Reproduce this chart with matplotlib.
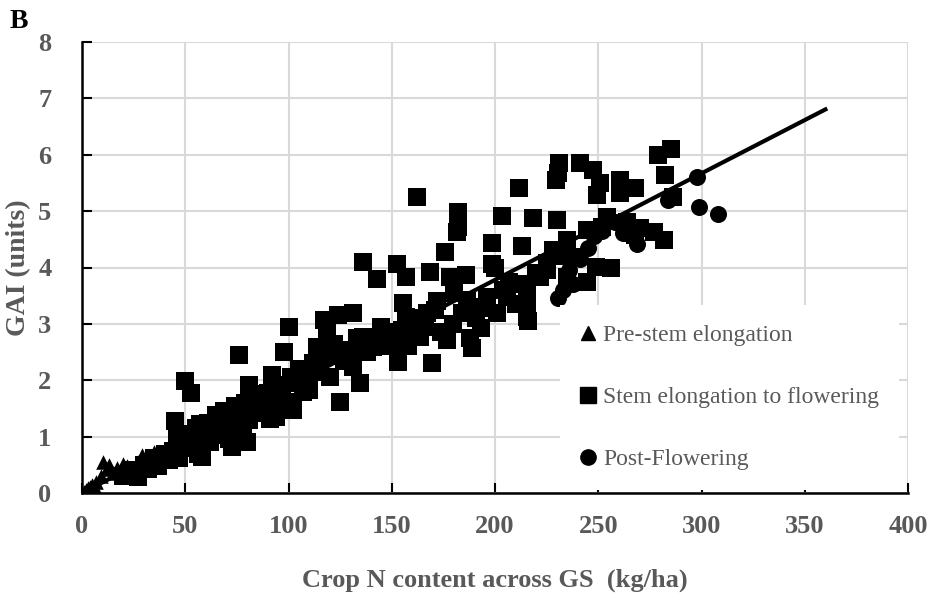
import matplotlib
matplotlib.use("Agg")
import matplotlib.pyplot as plt
from matplotlib.lines import Line2D

# Pre-stem elongation (triangles)
tri_x = [0, 1, 2, 3, 4, 5, 6, 7, 9, 10, 12, 13, 15, 17, 19, 20, 22, 24, 25, 27,
         29, 31, 33, 35, 38, 41, 44, 48]
tri_y = [0.0, 0.02, 0.05, 0.08, 0.10, 0.15, 0.12, 0.20, 0.30, 0.55, 0.42, 0.50, 0.35,
         0.45, 0.30, 0.52, 0.48, 0.28, 0.40, 0.55, 0.68, 0.50, 0.60, 0.72, 0.70, 0.65,
         0.75, 0.80]

# Stem elongation to flowering (squares)
sq_x = [20, 24, 27, 30, 32, 35, 37, 40, 42, 44, 45, 46, 47, 49, 50, 51, 53, 53, 55, 56,
        57, 58, 59, 61, 62, 64, 65, 67, 68, 69, 70, 71, 72, 72.6, 74, 75, 76, 77, 78, 79,
        80, 81, 81, 83, 85, 86, 88, 90, 91, 92, 93, 94, 95, 97, 98, 100, 100, 101, 102, 104,
        105, 107, 109, 110, 112, 113.6, 115, 117, 118.6, 120, 121, 124, 125, 127, 129.8, 131, 131, 134.6, 136, 136,
        138, 141, 143, 145, 147.5, 150, 152.5, 152.5, 153, 155.5, 157, 157, 158, 160, 162, 163.7, 165, 167, 168.5, 169.5,
        172, 174, 176, 176.8, 178, 179.7, 181.6, 182, 182, 184, 186, 186.4, 188, 189, 191, 193, 193, 196, 198.5, 198.5,
        200, 201, 203.4, 205.8, 207, 210, 211.6, 213, 215.5, 215.5, 215.5, 216, 218.4, 220, 222, 225, 225, 228, 229.5, 230,
        230.5, 231, 232, 235, 235, 238, 241, 244.5, 244.5, 247.5, 249, 249.4, 251, 252, 254, 256, 260.5, 260.5, 264, 268,
        268, 270, 277, 279, 282, 282.3, 285, 286,
        108, 114, 122, 128, 133, 140, 146, 149, 155, 161, 166, 171, 180, 195, 204, 212]
sq_y = [0.30, 0.40, 0.28, 0.50, 0.42, 0.62, 0.48, 0.70, 0.58, 0.75, 1.28, 0.95, 0.62, 0.85, 1.98, 1.05, 1.78, 0.80, 1.15, 0.70,
        1.22, 0.64, 0.98, 1.25, 0.90, 1.10, 1.38, 1.20, 1.02, 1.45, 1.30, 0.95, 1.40, 0.82, 1.55, 1.20, 2.45, 1.45, 1.05, 1.60,
        0.90, 1.92, 1.30, 1.65, 1.42, 1.75, 1.50, 1.78, 1.32, 2.10, 1.62, 1.35, 1.92, 1.80, 2.50, 2.95, 1.62, 2.05, 1.47, 1.95,
        2.20, 1.80, 2.06, 1.83, 2.30, 2.59, 2.15, 3.07, 2.89, 2.06, 2.45, 3.16, 1.61, 2.35, 2.54, 3.19, 2.24, 1.95, 4.10, 2.77,
        2.50, 2.59, 3.80, 2.95, 2.84, 2.65, 4.07, 2.71, 2.32, 3.37, 3.83, 3.12, 2.60, 2.95, 5.25, 2.77, 3.10, 3.19, 3.92, 2.30,
        3.40, 2.85, 4.27, 2.71, 3.83, 3.00, 4.63, 4.98, 4.72, 3.20, 3.87, 3.42, 2.75, 2.57, 3.10, 2.93, 3.28, 3.48, 4.43, 4.07,
        4.00, 3.20, 4.91, 3.48, 3.75, 3.35, 5.41, 4.38, 3.12, 3.39, 3.65, 3.05, 4.88, 3.90, 3.83, 3.95, 4.08, 4.31, 5.55, 4.84,
        5.67, 5.85, 4.20, 4.49, 3.83, 4.19, 5.85, 4.66, 3.74, 5.73, 4.01, 5.28, 5.50, 4.72, 4.90, 4.00, 5.55, 5.32, 4.80, 5.41,
        4.57, 4.70, 4.63, 6.00, 4.49, 5.64, 6.10, 5.25,
        2.15, 2.40, 2.65, 2.40, 2.75, 2.70, 2.60, 2.85, 2.90, 3.00, 2.95, 3.25, 3.55, 3.30, 3.60, 3.70]

# Post-flowering (circles)
ci_x = [230.5, 233, 238, 236, 241, 245, 248, 252, 258, 262, 265, 268.6, 284, 298, 299, 308]
ci_y = [3.46, 3.60, 3.70, 3.95, 4.15, 4.35, 4.55, 4.65, 4.80, 4.62, 4.60, 4.42, 5.19, 5.61, 5.08, 4.95]

# fitted line
fit_x = [0, 360]
fit_slope = 0.0189

legend_labels = ["Pre-stem elongation", "Stem elongation to flowering", "Post-Flowering"]

grey = "#595959"
serif = ["Liberation Serif", "DejaVu Serif"]

fig = plt.figure(figsize=(9.31, 5.93), dpi=100)
ax = fig.add_axes([82 / 931, 1 - 493 / 593, (908 - 82) / 931, (493 - 42) / 593])

ax.scatter(tri_x, tri_y, marker="^", s=110, color="black", linewidths=0, zorder=3)
ax.scatter(sq_x, sq_y, marker="s", s=150, color="black", linewidths=0, zorder=3)
ax.scatter(ci_x, ci_y, marker="o", s=150, color="black", linewidths=0, zorder=3)
ax.plot(fit_x, [fit_slope * v for v in fit_x], color="black", lw=3, zorder=4)

ax.set_xlim(0, 400)
ax.set_ylim(0, 8)
ax.set_xticks(range(0, 401, 50))
ax.set_yticks(range(0, 9))
ax.grid(True, color="#d9d9d9", lw=1.5, zorder=0)
ax.set_axisbelow(True)

for s in ["top", "right"]:
    ax.spines[s].set_visible(False)
for s in ["left", "bottom"]:
    ax.spines[s].set_linewidth(1.8)
    ax.spines[s].set_color("black")
ax.tick_params(direction="in", length=7, width=1.5, color="black")
ax.tick_params(axis="x", pad=16)
ax.tick_params(axis="y", pad=22)

for lab in ax.get_xticklabels() + ax.get_yticklabels():
    lab.set_family(serif)
    lab.set_fontweight("bold")
    lab.set_fontsize(19)
    lab.set_color(grey)

ax.set_xlabel("Crop N content across GS  (kg/ha)", family=serif, fontweight="bold",
              fontsize=19, color=grey, labelpad=22)
ax.set_ylabel("GAI (units)", family=serif, fontweight="bold", fontsize=20, color=grey)
ax.yaxis.set_label_coords((31 - 82) / 826, 0.5)

handles = [Line2D([], [], marker=m, color="black", ls="none", markersize=ms)
           for m, ms in [("^", 10), ("s", 11), ("o", 11)]]
leg = ax.legend(handles, legend_labels, loc="upper left",
                bbox_to_anchor=((560 - 82) / 826, (493 - 305) / 451),
                frameon=True, fancybox=False, framealpha=1, facecolor="white",
                edgecolor="none", handlelength=0.7, handletextpad=0.32,
                labelspacing=1.72, borderpad=0.82, borderaxespad=0,
                prop={"family": serif, "size": 17})
for t in leg.get_texts():
    t.set_color(grey)

fig.text(10 / 931, 1 - 22 / 593, "B", family=serif, fontweight="bold", fontsize=20,
         color="black", va="center", ha="left")

fig.savefig("out.png", dpi=100)
